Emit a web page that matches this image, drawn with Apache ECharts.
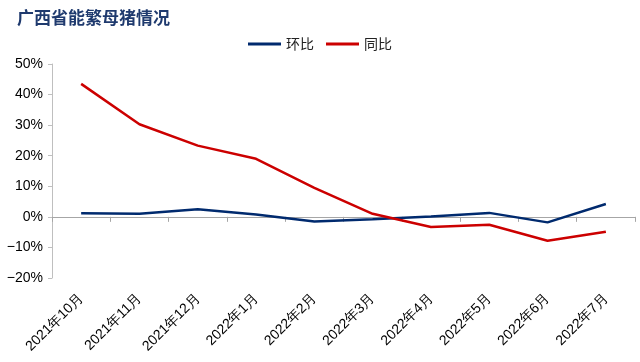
<!DOCTYPE html>
<html><head><meta charset="utf-8">
<script src="https://cdn.jsdelivr.net/npm/echarts@6/dist/echarts.min.js"></script>
<style>html,body{margin:0;padding:0;background:#fff}#c{width:640px;height:362px}</style>
</head><body><div id="c"></div>
<script>
const categories = ['2021年10月','2021年11月','2021年12月','2022年1月','2022年2月','2022年3月','2022年4月','2022年5月','2022年6月','2022年7月'];
const momValues = [1.2, 1.0, 2.5, 0.8, -1.5, -0.8, 0.1, 1.3, -1.8, 4.2];
const yoyValues = [43.5, 30.3, 23.3, 19.0, 9.5, 1.0, -3.3, -2.6, -7.8, -4.9];
const yTicks = {min: -20, max: 50, interval: 10};

const chart = echarts.init(document.getElementById('c'));
chart.setOption({
  animation: false,
  title: {text: '广西省能繁母猪情况', left: 12, top: 4,
    textStyle: {fontFamily: 'Noto Sans CJK SC', fontSize: 17, fontWeight: 'bold', color: '#1F3A6E'}},
  legend: {top: 32, left: 'center', itemWidth: 33, itemHeight: 3, itemGap: 12,
    icon: 'rect',
    textStyle: {fontFamily: 'Noto Sans CJK SC', fontSize: 14, color: '#222'},
    data: ['环比','同比']},
  grid: {left: 52, right: 5, top: 64, bottom: 84},
  xAxis: [{
    type: 'category', data: categories, position: 'bottom',
    axisLine: {show: false, onZero: false}, axisTick: {show: false},
    axisLabel: {rotate: 45, interval: 0, fontFamily: 'Liberation Sans, Arial', fontSize: 14, color: '#000', margin: 18}
  },{
    type: 'category', data: categories, position: 'bottom',
    axisLine: {show: true, onZero: true, lineStyle: {color: '#A6A6A6', width: 1}},
    axisTick: {show: true, interval: 0, length: 5, lineStyle: {color: '#A6A6A6', width: 1}},
    axisLabel: {show: false}
  }],
  yAxis: {
    type: 'value', min: yTicks.min, max: yTicks.max, interval: yTicks.interval,
    axisLine: {show: true, lineStyle: {color: '#BFBFBF'}},
    axisTick: {show: true, length: 4, lineStyle: {color: '#BFBFBF'}},
    splitLine: {show: false},
    axisLabel: {formatter: v => (v < 0 ? '\u2212' + (-v) : v) + '%', fontFamily: 'Liberation Sans, Arial', fontSize: 14, color: '#000', margin: 9}
  },
  series: [
    {name: '环比', type: 'line', data: momValues, symbol: 'none', xAxisIndex: 0,
      lineStyle: {color: '#002A6E', width: 2.5}, itemStyle: {color: '#002A6E'}},
    {name: '同比', type: 'line', data: yoyValues, symbol: 'none', xAxisIndex: 0,
      lineStyle: {color: '#CC0000', width: 2.5}, itemStyle: {color: '#CC0000'}}
  ]
});
</script></body></html>
